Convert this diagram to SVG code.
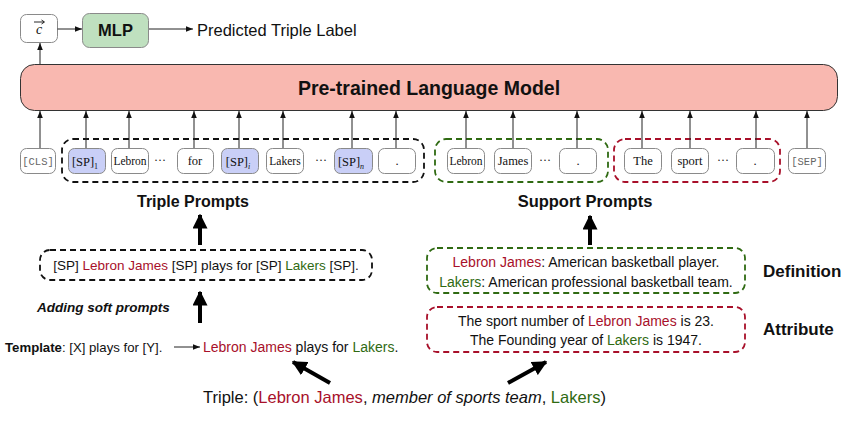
<svg xmlns="http://www.w3.org/2000/svg" width="857" height="421" viewBox="0 0 857 421">
<defs>
<style>
.s{font-family:"Liberation Sans",Arial,sans-serif;fill:#111}
.b{font-weight:bold}
.tok{fill:#fff;stroke:#8a8a8a;stroke-width:1}
.sp{fill:#c9cff7;stroke:#8a8a8a;stroke-width:1}
.tt{font-family:"Liberation Serif","Times New Roman",serif;font-size:12.5px;fill:#111;text-anchor:middle}
.dots{font-family:"Liberation Serif","Times New Roman",serif;font-size:12px;fill:#111;text-anchor:middle}
.mono{font-family:"Liberation Mono","Courier New",monospace;font-size:10.5px;fill:#666;text-anchor:middle}
.red{fill:#a8102a}
.grn{fill:#2f6a12}
.dash{fill:none;stroke-width:1.8;stroke-dasharray:6 4}
.thin{stroke:#222;stroke-width:1;fill:none}
.thick{stroke:#000;stroke-width:4;fill:none}
</style>
<marker id="ah" viewBox="0 0 10 10" refX="10" refY="5" markerWidth="7" markerHeight="7" markerUnits="userSpaceOnUse" orient="auto">
<path d="M0,1 L10,5 L0,9 z" fill="#111"/>
</marker>
<marker id="big" viewBox="0 0 10 10" refX="9" refY="5" markerWidth="15" markerHeight="15" markerUnits="userSpaceOnUse" orient="auto">
<path d="M0,0 L10,5 L0,10 z" fill="#000"/>
</marker>
</defs>

<g id="node-c">
<rect x="20.5" y="14.5" width="37" height="28" rx="6" class="tok"/>
<text x="39" y="34" class="tt" style="font-style:italic;font-size:14px">c</text>
<line x1="34" y1="22" x2="44" y2="22" stroke="#111" stroke-width="0.9"/>
<path d="M41.5,20 L44.5,22 L41.5,24" fill="none" stroke="#111" stroke-width="0.9"/>
</g>
<g id="node-mlp">
<rect x="82.5" y="13.5" width="66" height="34" rx="7" fill="#bfe0bf" stroke="#8a8a8a" stroke-width="1"/>
<text x="115.5" y="36" class="s b" font-size="16.5" text-anchor="middle">MLP</text>
</g>
<g id="node-label">
<text x="197" y="36" class="s" font-size="16.5">Predicted Triple Label</text>
</g>
<g id="node-plm">
<rect x="20.5" y="64.5" width="817" height="46" rx="14" fill="#f9b8b0" stroke="#333" stroke-width="1"/>
<text x="429" y="94.5" class="s b" font-size="19.5" text-anchor="middle">Pre-trained Language Model</text>
</g>

<g id="node-triple-group">
<rect x="62" y="139" width="362" height="43" rx="11" class="dash" stroke="#111"/>
</g>
<g id="node-support-def-group">
<rect x="435" y="139" width="173" height="43" rx="11" class="dash" stroke="#2f6a12"/>
</g>
<g id="node-support-attr-group">
<rect x="614" y="139" width="166" height="43" rx="11" class="dash" stroke="#a8102a"/>
</g>

<g id="tokens">
<g id="tok-cls"><rect x="20.5" y="148.5" width="35" height="25" rx="6" class="tok"/><text x="38" y="164.5" class="mono">[CLS]</text></g>
<g id="tok-sp1"><rect x="68.5" y="148.5" width="37" height="25" rx="6" class="sp"/><text x="85" y="165.5" class="tt" font-size="14">[SP]<tspan font-size="8" dy="3">1</tspan></text></g>
<g id="tok-lebron"><rect x="111.5" y="148.5" width="37" height="25" rx="6" class="tok"/><text x="130" y="165" class="tt" style="font-size:11.5px">Lebron</text></g>
<text x="160" y="164" class="dots">···</text>
<g id="tok-for"><rect x="177.5" y="148.5" width="36" height="25" rx="6" class="tok"/><text x="195" y="165" class="tt">for</text></g>
<g id="tok-spi"><rect x="221.5" y="148.5" width="37" height="25" rx="6" class="sp"/><text x="238" y="165.5" class="tt" font-size="14">[SP]<tspan font-size="8" dy="3" font-style="italic">i</tspan></text></g>
<g id="tok-lakers"><rect x="266.5" y="148.5" width="37" height="25" rx="6" class="tok"/><text x="285" y="165" class="tt" style="font-size:11.5px">Lakers</text></g>
<text x="321" y="164" class="dots">···</text>
<g id="tok-spn"><rect x="334.5" y="148.5" width="38" height="25" rx="6" class="sp"/><text x="351" y="165.5" class="tt" font-size="14">[SP]<tspan font-size="8" dy="3" font-style="italic">n</tspan></text></g>
<g id="tok-dot1"><rect x="378.5" y="148.5" width="37" height="25" rx="6" class="tok"/><text x="397" y="165" class="tt">.</text></g>

<g id="tok-lebron2"><rect x="447.5" y="148.5" width="37" height="25" rx="6" class="tok"/><text x="466" y="165" class="tt" style="font-size:11.5px">Lebron</text></g>
<g id="tok-james"><rect x="494.5" y="148.5" width="37" height="25" rx="6" class="tok"/><text x="513" y="165" class="tt">James</text></g>
<text x="545" y="164" class="dots">···</text>
<g id="tok-dot2"><rect x="559.5" y="148.5" width="37" height="25" rx="6" class="tok"/><text x="578" y="165" class="tt">.</text></g>

<g id="tok-the"><rect x="624.5" y="148.5" width="37" height="25" rx="6" class="tok"/><text x="643" y="165" class="tt">The</text></g>
<g id="tok-sport"><rect x="671.5" y="148.5" width="37" height="25" rx="6" class="tok"/><text x="690" y="165" class="tt">sport</text></g>
<text x="723" y="164" class="dots">···</text>
<g id="tok-dot3"><rect x="736.5" y="148.5" width="38" height="25" rx="6" class="tok"/><text x="755" y="165" class="tt">.</text></g>
<g id="tok-sep"><rect x="788.5" y="148.5" width="37" height="25" rx="6" class="tok"/><text x="807" y="164.5" class="mono">[SEP]</text></g>
</g>

<g id="node-triple-prompts-label"><text x="193" y="207" class="s b" font-size="16" text-anchor="middle">Triple Prompts</text></g>
<g id="node-support-prompts-label"><text x="585" y="207" class="s b" font-size="16.5" text-anchor="middle">Support Prompts</text></g>

<g id="node-soft-prompt">
<rect x="40" y="250" width="332" height="30" rx="10" class="dash" stroke="#111"/>
<text x="206" y="270" class="s" font-size="13.5" text-anchor="middle">[SP] <tspan class="red">Lebron James</tspan> [SP] plays for [SP] <tspan class="grn">Lakers</tspan> [SP].</text>
</g>
<g id="node-adding"><text x="37" y="312" class="s b" font-size="13.5" font-style="italic">Adding soft prompts</text></g>
<g id="node-template"><text x="5" y="352" class="s" font-size="13.2"><tspan class="b">Template</tspan>: [X] plays for [Y].</text></g>
<g id="node-filled"><text x="203" y="352" class="s" font-size="14"><tspan class="red">Lebron James</tspan> plays for <tspan class="grn">Lakers</tspan>.</text></g>

<g id="node-definition">
<rect x="427" y="248" width="318" height="45" rx="10" class="dash" stroke="#2f6a12"/>
<text x="586" y="267" class="s" font-size="14" text-anchor="middle"><tspan class="red">Lebron James</tspan>: American basketball player.</text>
<text x="586" y="287" class="s" font-size="14" text-anchor="middle"><tspan class="grn">Lakers</tspan>: American professional basketball team.</text>
</g>
<g id="node-definition-label"><text x="763" y="277" class="s b" font-size="17">Definition</text></g>
<g id="node-attribute">
<rect x="427" y="307" width="318" height="45" rx="10" class="dash" stroke="#a8102a"/>
<text x="586" y="326" class="s" font-size="14" text-anchor="middle">The sport number of <tspan class="red">Lebron James</tspan> is 23.</text>
<text x="586" y="345" class="s" font-size="14" text-anchor="middle">The Founding year of <tspan class="grn">Lakers</tspan> is 1947.</text>
</g>
<g id="node-attribute-label"><text x="763" y="335" class="s b" font-size="17">Attribute</text></g>

<g id="node-triple"><text x="203" y="403" class="s" font-size="16.5">Triple: (<tspan class="red">Lebron James</tspan>, <tspan font-style="italic">member of sports team</tspan>, <tspan class="grn">Lakers</tspan>)</text></g>

<g id="connectors">
<line x1="57.5" y1="29" x2="82" y2="29" class="thin" marker-end="url(#ah)"/>
<line x1="149" y1="29" x2="193" y2="29" class="thin" marker-end="url(#ah)"/>
<line x1="40" y1="64" x2="40" y2="43" class="thin" marker-end="url(#ah)"/>
<line x1="40" y1="148" x2="40" y2="111" class="thin" marker-end="url(#ah)"/>
<line x1="86" y1="148" x2="86" y2="111" class="thin" marker-end="url(#ah)"/>
<line x1="129" y1="148" x2="129" y2="111" class="thin" marker-end="url(#ah)"/>
<line x1="194" y1="148" x2="194" y2="111" class="thin" marker-end="url(#ah)"/>
<line x1="239" y1="148" x2="239" y2="111" class="thin" marker-end="url(#ah)"/>
<line x1="283" y1="148" x2="283" y2="111" class="thin" marker-end="url(#ah)"/>
<line x1="352" y1="148" x2="352" y2="111" class="thin" marker-end="url(#ah)"/>
<line x1="396" y1="148" x2="396" y2="111" class="thin" marker-end="url(#ah)"/>
<line x1="466" y1="148" x2="466" y2="111" class="thin" marker-end="url(#ah)"/>
<line x1="513" y1="148" x2="513" y2="111" class="thin" marker-end="url(#ah)"/>
<line x1="577" y1="148" x2="577" y2="111" class="thin" marker-end="url(#ah)"/>
<line x1="642" y1="148" x2="642" y2="111" class="thin" marker-end="url(#ah)"/>
<line x1="690" y1="148" x2="690" y2="111" class="thin" marker-end="url(#ah)"/>
<line x1="756" y1="148" x2="756" y2="111" class="thin" marker-end="url(#ah)"/>
<line x1="807" y1="148" x2="807" y2="111" class="thin" marker-end="url(#ah)"/>
<line x1="200" y1="245" x2="200" y2="215" class="thick" marker-end="url(#big)"/>
<line x1="590" y1="245" x2="590" y2="216" class="thick" marker-end="url(#big)"/>
<line x1="200" y1="323" x2="200" y2="292" class="thick" marker-end="url(#big)"/>
<line x1="174" y1="347" x2="200" y2="347" class="thin" marker-end="url(#ah)"/>
<line x1="330" y1="383" x2="293" y2="362" class="thick" marker-end="url(#big)"/>
<line x1="508" y1="383" x2="546" y2="362" class="thick" marker-end="url(#big)"/>
</g>
</svg>
